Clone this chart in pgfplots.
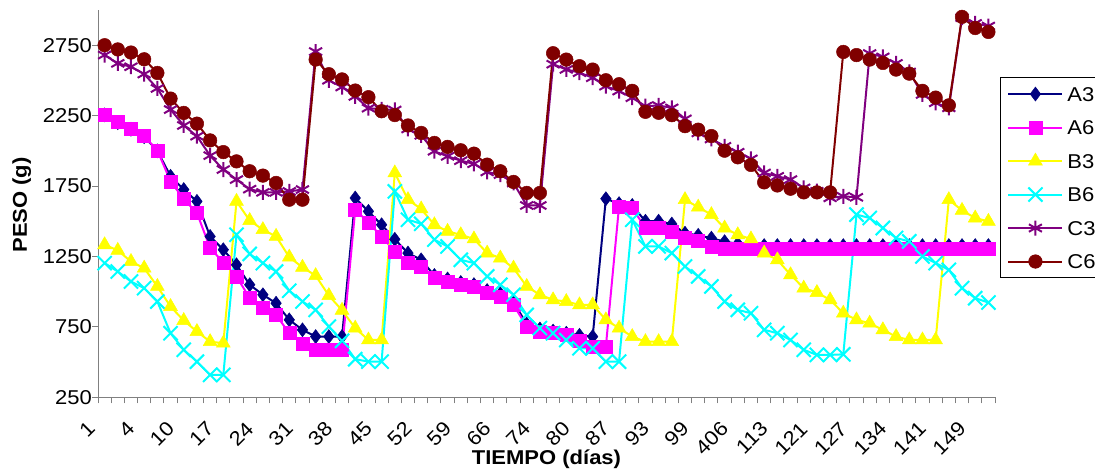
\documentclass[border=0pt]{standalone}
\usepackage{fontspec}
\setmainfont{Liberation Sans}[FakeStretch=1.1]
\usepackage{pgfplots}
\pgfplotsset{compat=1.18}
\usepackage{pgfplotstable}
\definecolor{cA3}{HTML}{000080}
\definecolor{cA6}{HTML}{FF00FF}
\definecolor{cB3}{HTML}{FFFF00}
\definecolor{cB6}{HTML}{00FFFF}
\definecolor{cC3}{HTML}{800080}
\definecolor{cC6}{HTML}{800000}
\definecolor{axgray}{HTML}{808080}

\pgfplotstableread{
i A3 A6 B3 B6 C3 C6
0 2255 2258 1333 1203 2680 2750
1 2200 2203 1293 1143 2621 2720
2 2153 2156 1214 1072 2597 2698
3 2100 2104 1167 1025 2545 2650
4 2000 2004 1037 930 2443 2553
5 1819 1783 894 705 2293 2371
6 1725 1658 795 587 2180 2269
7 1641 1559 717 503 2104 2193
8 1392 1310 645 409 1966 2074
9 1298 1207 634 409 1867 1991
10 1191 1108 1641 1404 1796 1925
11 1049 954 1505 1268 1728 1855
12 978 883 1440 1203 1705 1824
13 918 835 1393 1143 1705 1772
14 800 705 1245 1007 1712 1653
15 729 629 1173 930 1725 1653
16 681 587 1114 871 2705 2648
17 681 587 972 752 2501 2544
18 681 587 868 651 2453 2507
19 1665 1582 741 521 2386 2428
20 1570 1492 657 503 2303 2381
21 1475 1392 657 503 2295 2281
22 1372 1286 1843 1712 2290 2254
23 1274 1203 1653 1511 2155 2180
24 1226 1179 1587 1482 2110 2127
25 1115 1096 1475 1369 1997 2056
26 1090 1072 1428 1321 1961 2028
27 1065 1049 1404 1226 1930 2004
28 1050 1032 1374 1203 1908 1980
29 1008 990 1274 1108 1850 1902
30 985 966 1239 1049 1831 1855
31 925 906 1167 978 1772 1779
32 770 752 1037 835 1612 1701
33 735 717 978 741 1612 1701
34 720 705 942 705 2615 2693
35 705 693 930 657 2578 2648
36 690 652 906 598 2555 2601
37 681 610 906 598 2519 2577
38 1660 610 800 503 2459 2501
39 1625 1606 741 503 2424 2473
40 1612 1594 681 1511 2377 2426
41 1500 1452 645 1321 2317 2277
42 1500 1452 645 1321 2322 2270
43 1480 1428 645 1274 2305 2253
44 1415 1381 1653 1179 2227 2175
45 1400 1360 1600 1108 2127 2150
46 1380 1321 1547 1037 2084 2105
47 1355 1303 1452 930 2032 2001
48 1340 1303 1404 871 1990 1954
49 1330 1303 1374 847 1943 1900
50 1327 1303 1274 729 1843 1776
51 1327 1303 1226 705 1819 1754
52 1327 1303 1120 657 1796 1731
53 1327 1303 1025 587 1737 1705
54 1327 1303 994 551 1713 1705
55 1327 1303 942 551 1666 1705
56 1327 1303 847 555 1677 2702
57 1327 1303 800 1547 1670 2680
58 1327 1303 776 1523 2691 2648
59 1327 1303 729 1452 2667 2624
60 1327 1303 681 1381 2621 2577
61 1327 1303 657 1357 2560 2548
62 1327 1303 657 1250 2400 2426
63 1327 1303 657 1203 2341 2378
64 1327 1303 1653 1155 2305 2323
65 1327 1303 1577 1025 2945 2951
66 1327 1303 1523 954 2905 2872
67 1327 1303 1499 923 2886 2844
}\data

\begin{document}
\begin{tikzpicture}[x=1pt,y=1pt]
\useasboundingbox (0,0) rectangle (1095,470);
\begin{axis}[
  at={(98pt,72.7pt)}, anchor=south west,
  scale only axis, width=897pt, height=387.3pt,
  xmin=-0.5, xmax=67.5, ymin=250, ymax=3000,
  clip=false,
  axis x line*=bottom, axis y line*=left,
  axis line style={-, draw=axgray, line width=1pt},
  ytick={250,750,...,2750},
  xtick={0,3,...,66},
  xticklabels={1,4,10,17,24,31,38,45,52,59,66,74,80,87,93,99,406,113,121,127,134,141,149},
  minor xtick={-0.5,0.5,...,67.5},
  tick align=outside,
  major tick length=6pt, minor tick length=6pt,
  tick style={draw=axgray, line width=1pt},
  every major x tick/.append style={draw=none},
  /pgf/number format/1000 sep={},
  /pgf/number format/assume math mode=true,
  tick label style={font=\fontsize{20}{24}\selectfont},
  xticklabel style={xshift=-13pt, yshift=-22pt, rotate=45, anchor=east, inner sep=0pt},
  yticklabel style={anchor=east, inner sep=0pt},
  xlabel={TIEMPO (días)},
  xlabel style={at={(axis description cs:0.5,-0.1748)}, anchor=base, font=\bfseries\fontsize{20}{24}\selectfont},
  ylabel={PESO (g)},
  ylabel style={at={(axis description cs:-0.0792,0.4965)}, anchor=base, font=\bfseries\fontsize{20}{24}\selectfont},
  legend cell align=left,
  legend image code/.code={\draw[mark repeat=2,mark phase=2] plot coordinates {(0pt,0pt) (27pt,0pt) (54pt,0pt)};},
  legend style={at={(axis description cs:1.0056,0.826)}, anchor=north west, draw=black, fill=white, line width=0.8pt,
    font=\fontsize{20}{24}\selectfont, inner xsep=7pt, inner ysep=7pt, row sep=15pt, column sep=2pt,
    nodes={text height=14.5pt, text depth=0pt, inner sep=2pt}},
]
\addplot[cA3, line width=2pt, mark=diamond*, mark size=7pt, mark options={solid, fill=cA3, line width=0.5pt}] table[x=i, y=A3] {\data};
\addlegendentry{A3}
\addplot[cA6, line width=2pt, mark=square*, mark size=6.5pt, mark options={solid, fill=cA6, line width=0.5pt}] table[x=i, y=A6] {\data};
\addlegendentry{A6}
\addplot[cB3, line width=2pt, mark=triangle*, mark size=8pt, mark options={solid, fill=cB3, line width=0.5pt}] table[x=i, y=B3] {\data};
\addlegendentry{B3}
\addplot[cB6, line width=2pt, mark=x, mark size=10pt, mark options={solid, line width=2pt}] table[x=i, y=B6] {\data};
\addlegendentry{B6}
\addplot[cC3, line width=2pt, mark=asterisk, mark size=7.5pt, mark options={solid, line width=2pt}] table[x=i, y=C3] {\data};
\addlegendentry{C3}
\addplot[cC6, line width=2pt, mark=*, mark size=6.8pt, mark options={solid, fill=cC6, line width=0.5pt}] table[x=i, y=C6] {\data};
\addlegendentry{C6}
\end{axis}
\end{tikzpicture}
\end{document}
